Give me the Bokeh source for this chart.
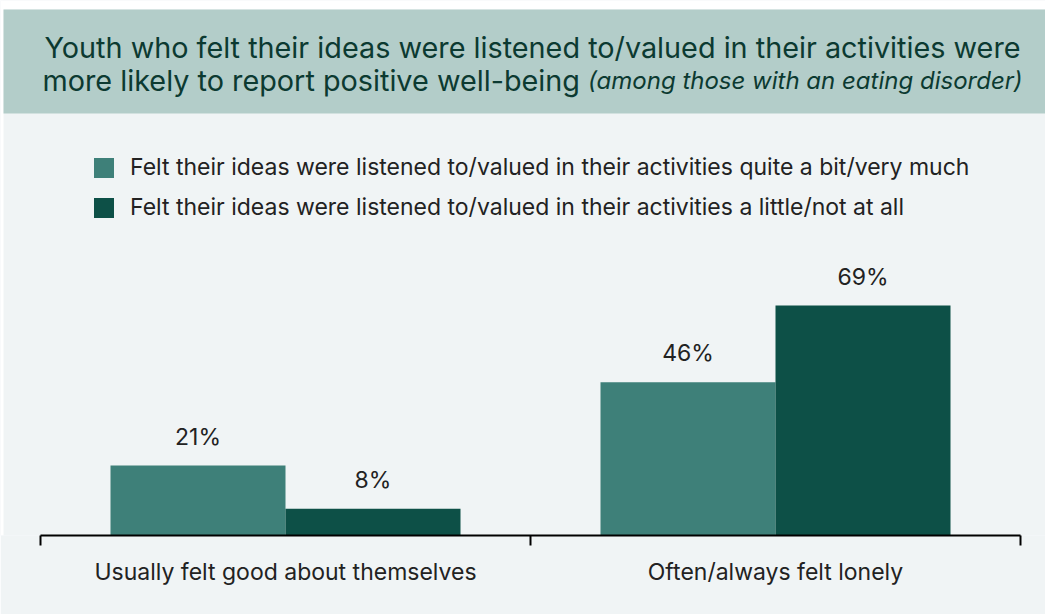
from bokeh.plotting import figure
from bokeh.models import (ColumnDataSource, BoxAnnotation, Label, Legend, LegendItem,
                          FixedTicker, Range1d)
from bokeh.embed import file_html
from bokeh.resources import INLINE
from bokeh.core.properties import value

# ---- data ----
categories = ["Usually felt good about themselves", "Often/always felt lonely"]
valued_much = [21, 46]
valued_little = [8, 69]
series_names = [
    "Felt their ideas were listened to/valued in their activities quite a bit/very much",
    "Felt their ideas were listened to/valued in their activities a little/not at all",
]
title_line1 = "Youth who felt their ideas were listened to/valued in their activities were"
title_line2 = "more likely to report positive well-being"
title_note = "(among those with an eating disorder)"

# ---- layout helpers (pixel -> data) ----
W, H = 1045, 614
AX_L, AX_R, BASE = 40, 1020, 535
PX_PER_CAT = (AX_R - AX_L) / len(categories)
PX_PER_PCT = 230 / 69


def px2x(px):
    return (px - AX_L) / PX_PER_CAT


def px2y(py):
    return (BASE - py) / PX_PER_PCT


LIGHT = "#3e8079"
DARK = "#0d5047"
TXT = "#222222"
TITLE_C = "#0c3a31"
FONT = "Inter"

centers = [i + 0.5 for i in range(len(categories))]
bw = 175 / PX_PER_CAT
src_a = ColumnDataSource(dict(x=[c - bw / 2 for c in centers], top=valued_much,
                              lab=[f"{v}%" for v in valued_much]))
src_b = ColumnDataSource(dict(x=[c + bw / 2 for c in centers], top=valued_little,
                              lab=[f"{v}%" for v in valued_little]))

p = figure(width=W, height=H, output_backend="svg", toolbar_location=None,
           x_range=Range1d(px2x(0), px2x(W)), y_range=Range1d(0, px2y(0)),
           y_axis_location=None, min_border_left=0, min_border_right=0,
           min_border_top=0, min_border_bottom=H - BASE)
p.background_fill_color = "#f0f4f5"
p.border_fill_color = "#f0f4f5"
p.outline_line_color = None
p.grid.visible = False

# header band and white edges
p.add_layout(BoxAnnotation(bottom=px2y(9), fill_color="white", fill_alpha=1, line_color=None, level="underlay"))
p.add_layout(BoxAnnotation(right=px2x(3), fill_color="white", fill_alpha=1, line_color=None, level="underlay"))
p.add_layout(BoxAnnotation(left=px2x(3), top=px2y(9), bottom=px2y(113), fill_color="#b3cdc9",
                           fill_alpha=1, line_color=None, level="underlay"))

r1 = p.vbar(x="x", top="top", width=bw, bottom=0, source=src_a, fill_color=LIGHT, line_color=None)
r2 = p.vbar(x="x", top="top", width=bw, bottom=0, source=src_b, fill_color=DARK, line_color=None)

for s in (src_a, src_b):
    p.text(x="x", y="top", text="lab", source=s, text_font=value(FONT), text_font_size="23px",
           text_color=TXT, text_align="center", text_baseline="middle", y_offset=-29)

# axis
ax = p.xaxis[0]
ax.ticker = FixedTicker(ticks=centers, minor_ticks=list(range(len(categories) + 1)))
ax.major_label_overrides = {c: n for c, n in zip(centers, categories)}
ax.bounds = (0, len(categories))
ax.axis_line_color = "black"
ax.axis_line_width = 2
ax.major_tick_out = 0
ax.major_tick_in = 0
ax.minor_tick_out = 10
ax.minor_tick_in = 0
ax.minor_tick_line_color = "black"
ax.minor_tick_line_width = 2
ax.major_label_standoff = 12
ax.major_label_text_font = FONT
ax.major_label_text_font_size = "23px"
ax.major_label_text_color = TXT

# title
p.add_layout(Label(x=px2x(532), y=px2y(47), text=title_line1, text_font=FONT, text_font_size="28.8px",
                   text_color=TITLE_C, text_align="center", text_baseline="middle"))
p.add_layout(Label(x=px2x(42), y=px2y(80), text=title_line2, text_font=FONT, text_font_size="28.8px",
                   text_color=TITLE_C, text_align="left", text_baseline="middle"))
p.add_layout(Label(x=px2x(1022), y=px2y(80), text=title_note, text_font=FONT, text_font_size="24px",
                   text_font_style="italic", text_color=TITLE_C, text_align="right", text_baseline="middle"))

legend = Legend(items=[LegendItem(label=series_names[0], renderers=[r1]),
                       LegendItem(label=series_names[1], renderers=[r2])],
                location=(91, BASE - 221), orientation="vertical",
                glyph_width=25, glyph_height=25, label_height=25, spacing=12,
                label_standoff=14, padding=0, margin=0,
                background_fill_alpha=0, border_line_color=None,
                label_text_font=FONT, label_text_font_size="23px", label_text_color=TXT)
p.add_layout(legend)

open("out.html", "w").write(file_html(p, INLINE))
